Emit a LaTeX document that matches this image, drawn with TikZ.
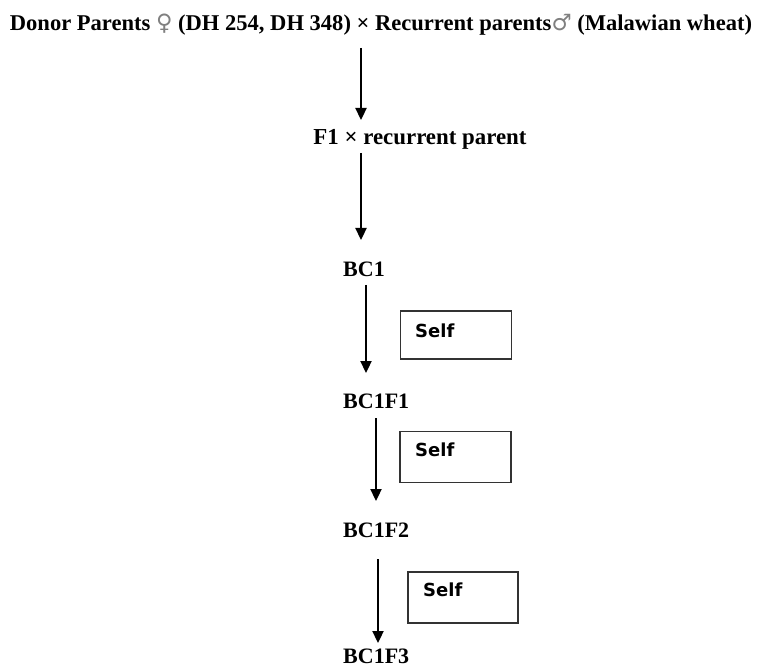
\documentclass[tikz,border=0pt]{standalone}
\usepackage{fontspec}
\setmainfont{Liberation Serif}
\newfontfamily\selffont{DejaVu Sans}
\newfontfamily\symfont{DejaVu Sans}
\usetikzlibrary{arrows.meta}
\begin{document}
\begin{tikzpicture}[x=1pt,y=-1pt,
  lbl/.style={inner sep=0pt, anchor=west, font=\bfseries\fontsize{22}{26}\selectfont},
  arr/.style={line width=2.3pt, -{Triangle[width=11pt,length=12pt]}},
  selfbox/.style={draw=black!80, line width=1.1pt, inner sep=0pt},
  selftxt/.style={font=\selffont\bfseries\fontsize{18}{22}\selectfont, anchor=west, inner sep=0pt}]
\useasboundingbox (0,0) rectangle (760,668);
\node[inner sep=0pt] (title) at (381,25) {\resizebox{742pt}{!}{\bfseries Donor Parents {\color{gray}\symfont\mdseries ♀} (DH 254, DH 348) × Recurrent parents{\color{gray}\symfont\mdseries ♂} (Malawian wheat)}};
\node[inner sep=0pt] (f1) at (420,139) {\resizebox{213pt}{!}{\bfseries F1 × recurrent parent}};
\node[lbl] (bc1) at (343,269) {BC1};
\node[lbl] (bc1f1) at (343,401) {BC1F1};
\node[lbl] (bc1f2) at (343,530) {BC1F2};
\node[lbl] (bc1f3) at (343,656) {BC1F3};
% Self boxes
\node[selfbox, minimum width=111pt, minimum height=48pt] (s1) at (456,335) {};
\node[selfbox, minimum width=111pt, minimum height=51pt] (s2) at (455.5,457) {};
\node[selfbox, minimum width=110pt, minimum height=51pt] (s3) at (463,597.5) {};
\node[selftxt] (t1) at (415,331) {Self};
\node[selftxt] (t2) at (415,450) {Self};
\node[selftxt] (t3) at (423,590) {Self};
% arrow endpoints
\coordinate (a1s) at (361,48);  \coordinate (a1e) at (361,120);
\coordinate (a2s) at (361,153); \coordinate (a2e) at (361,240);
\coordinate (a3s) at (366,285); \coordinate (a3e) at (366,373);
\coordinate (a4s) at (376,418); \coordinate (a4e) at (376,501);
\coordinate (a5s) at (378,559); \coordinate (a5e) at (378,643);
\draw[arr] (a1s) -- (a1e);
\draw[arr] (a2s) -- (a2e);
\draw[arr] (a3s) -- (a3e);
\draw[arr] (a4s) -- (a4e);
\draw[arr] (a5s) -- (a5e);
\end{tikzpicture}
\end{document}
